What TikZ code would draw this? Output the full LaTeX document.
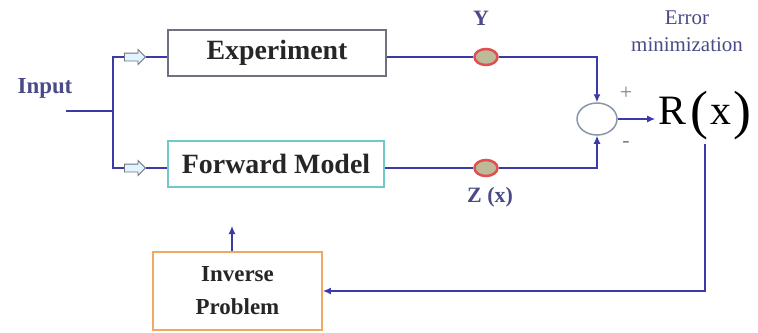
\documentclass[tikz,border=0pt]{standalone}
\usepackage{fontspec}
\setmainfont{Liberation Serif}
\usepackage{tikz}
\usetikzlibrary{arrows.meta, shapes.arrows, shapes.geometric}
\definecolor{wireblue}{HTML}{3A3AA8}
\definecolor{labelblue}{HTML}{4A4A88}
\definecolor{expgray}{HTML}{707080}
\definecolor{fwdteal}{HTML}{70C8C8}
\definecolor{invorange}{HTML}{F0A860}
\definecolor{sumgray}{HTML}{8898A8}
\definecolor{probered}{HTML}{E05050}

\begin{document}
\begin{tikzpicture}[x=1bp, y=-1bp,
  box/.style={draw, line width=1.8bp, minimum width=218bp, minimum height=46bp, font=\fontsize{28}{30}\selectfont\bfseries, text=black!85},
  wire/.style={draw=wireblue, line width=1.3bp, -{Latex[length=8bp,width=7bp]}},
  plain/.style={draw=wireblue, line width=1.3bp},
  probe/.style={ellipse, draw=probered, line width=2.5bp, fill=olive!30!gray!60, minimum width=23bp, minimum height=16bp, inner sep=0pt},
  feed/.style={single arrow, draw=expgray, fill=cyan!12, line width=0.9bp, inner sep=3.5bp, single arrow head extend=3.5bp, minimum height=21bp},
  lbl/.style={text=labelblue, font=\fontsize{22}{24}\selectfont\bfseries}]
\useasboundingbox (0,0) rectangle (758,332);
% blocks
\node[box, draw=expgray] (exp) at (277,53) {Experiment};
\node[box, draw=fwdteal, minimum width=216bp] (fwd) at (276,164) {Forward Model};
\node[box, draw=invorange, minimum width=169bp, minimum height=78bp, align=center, font=\fontsize{23}{33}\selectfont\bfseries] (inv) at (237.5,291) {Inverse\\Problem};
\node[ellipse, draw=sumgray, line width=1.5bp, minimum width=40bp, minimum height=32bp] (sum) at (597,119) {};
\node[font=\fontsize{42}{44}\selectfont] (res) at (705,116) {R\kern4bp\raisebox{-4bp}{\fontsize{54}{54}\selectfont(}\kern2bp x\kern2bp\raisebox{-4bp}{\fontsize{54}{54}\selectfont)}};
% probes and feeds
\node[probe] (yp) at (486,57) {};
\node[probe] (zp) at (486,168) {};
\node[feed] (ea) at (133,57) {};
\node[feed] (fa) at (133,168) {};
% labels
\node[lbl, font=\fontsize{23}{24}\selectfont\bfseries] (inlab) at (45,88) {Input};
\node[lbl] (ylab) at (481,18) {Y};
\node[lbl] (zlab) at (490,197) {Z (x)};
\node[text=labelblue, align=center, font=\fontsize{21}{27}\selectfont] (errlab) at (687,31) {Error\\minimization};
\node[text=gray, font=\fontsize{22}{24}\selectfont] (plus) at (626,93) {+};
\node[text=gray, font=\fontsize{22}{24}\selectfont] (minus) at (626,145) {-};
\coordinate (src) at (66,111);
\coordinate (jn) at (113,111);
\coordinate (fb) at (232,226);
% wires
\draw[plain] (src) -- (jn);
\draw[plain] (ea.west) -| (jn) |- (fa.west);
\draw[plain] (ea.east) -- (ea.east -| exp.west);
\draw[plain] (fa.east) -- (fa.east -| fwd.west);
\draw[plain] (exp.east |- yp) -- (yp.west);
\draw[plain] (fwd.east |- zp) -- (zp.west);
\draw[wire] (yp.east) -| (sum.north);
\draw[wire] (zp.east) -| (sum.south);
\draw[wire] (sum.east) -- (sum.east -| res.west);
\draw[wire] (res.south) |- (inv.east);
\draw[wire] (inv.north -| fb) -- (fb);
\end{tikzpicture}
\end{document}
